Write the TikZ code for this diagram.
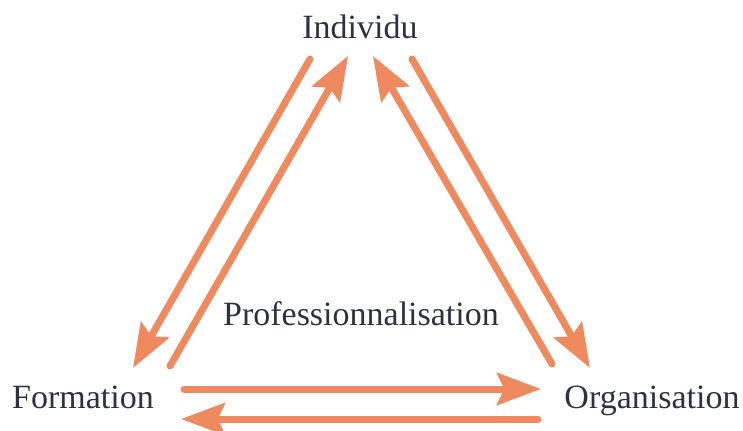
\documentclass[tikz,border=0pt]{standalone}
\usepackage{fontspec}
\setmainfont{Liberation Serif}
\usetikzlibrary{arrows.meta}
\definecolor{arr}{HTML}{EE8A5E}
\definecolor{txt}{HTML}{2D3142}
\begin{document}
\begin{tikzpicture}[x=0.75pt,y=-0.75pt,
  lbl/.style={anchor=base,text=txt,font=\fontsize{25.5pt}{30pt}\selectfont,inner sep=0pt},
  conn/.style={draw=arr,line width=5.25pt,line cap=round,
    -{Stealth[length=33pt,width=24pt,inset=5.5pt]}}]
\useasboundingbox (0,0) rectangle (743,430);
\node[lbl] (ind) at (360,38) {Individu};
\node[lbl] (form) at (83,408) {Formation};
\node[lbl] (org) at (652,408) {Organisation};
\node[lbl] (prof) at (361,325) {Professionnalisation};
% endpoints
\coordinate (a1) at (310,59);  \coordinate (a2) at (133,368);
\coordinate (b1) at (170,366); \coordinate (b2) at (348,56);
\coordinate (c1) at (552,364); \coordinate (c2) at (373,56);
\coordinate (d1) at (412,59);  \coordinate (d2) at (590,368);
\coordinate (e1) at (184,389); \coordinate (e2) at (541,389);
\coordinate (f1) at (538,419); \coordinate (f2) at (181,419);
\draw[conn] (a1) -- (a2);
\draw[conn] (b1) -- (b2);
\draw[conn] (c1) -- (c2);
\draw[conn] (d1) -- (d2);
\draw[conn] (e1) -- (e2);
\draw[conn] (f1) -- (f2);
\end{tikzpicture}
\end{document}
